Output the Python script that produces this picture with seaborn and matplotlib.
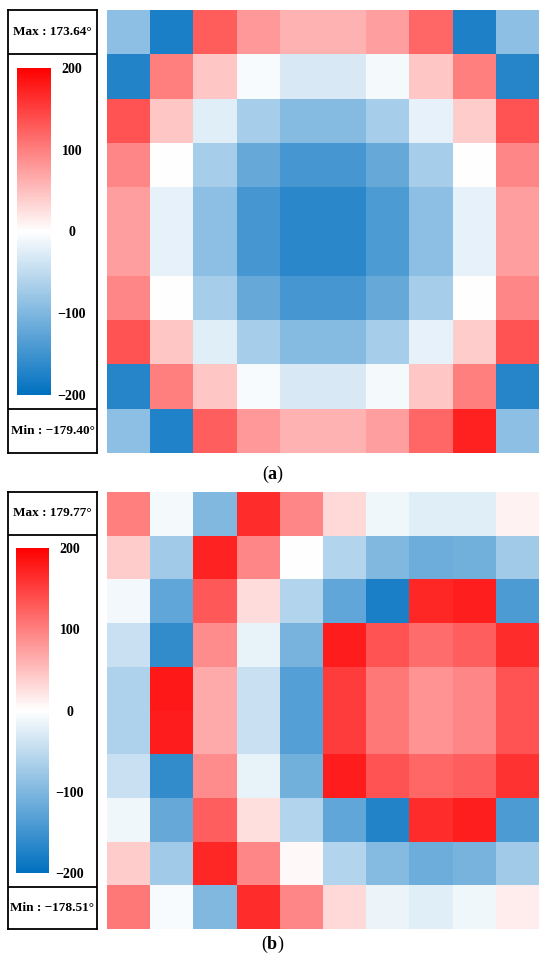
import numpy as np
import pandas as pd
import seaborn as sns
import matplotlib.pyplot as plt
from matplotlib.colors import LinearSegmentedColormap

# phase maps (degrees), 10 x 10 each
map_a = [
    [-90, -179.40, 128, 80, 60, 60, 76, 120, -176, -90],
    [-172, 100, 45, -5, -30, -30, -8, 45, 100, -170],
    [135, 45, -25, -70, -95, -95, -70, -20, 40, 135],
    [95, 0, -70, -120, -145, -145, -120, -70, 0, 95],
    [75, -20, -90, -145, -166, -166, -140, -90, -20, 75],
    [75, -20, -90, -145, -166, -166, -140, -90, -20, 75],
    [95, 0, -70, -120, -145, -145, -120, -70, 0, 95],
    [135, 45, -25, -70, -95, -95, -70, -20, 40, 135],
    [-170, 100, 45, -5, -30, -30, -8, 45, 100, -170],
    [-90, -175, 125, 80, 60, 60, 75, 120, 173.64, -90],
]
map_b = [
    [100, -8, -100, 165, 95, 30, -12, -25, -25, 10],
    [40, -75, 172, 95, 0, -60, -100, -115, -110, -75],
    [-10, -125, 130, 27, -60, -125, -178.51, 170, 175, -140],
    [-43, -160, 90, -18, -105, 178, 135, 115, 125, 165],
    [-63, 179.77, 67, -43, -133, 153, 105, 85, 95, 135],
    [-63, 178, 67, -43, -133, 153, 105, 85, 95, 135],
    [-43, -160, 90, -18, -110, 178, 135, 120, 125, 160],
    [-12, -120, 125, 25, -60, -125, -172, 165, 175, -140],
    [40, -75, 170, 95, 5, -60, -95, -115, -105, -75],
    [105, -5, -100, 165, 95, 30, -15, -25, -12, 15],
]
cbar_ticks = [200, 100, 0, -100, -200]
cbar_ticklabels = ['200', '100', '0', '\u2212100', '\u2212200']
panel_labels = ['a', 'b']

W, H = 550, 968

def rect(x, y, w, h):
    return [x / W, 1 - (y + h) / H, w / W, h / H]

plt.rcParams['font.family'] = ['Liberation Serif', 'DejaVu Serif']
plt.rcParams['mathtext.fontset'] = 'custom'
plt.rcParams['mathtext.rm'] = 'Liberation Serif'
plt.rcParams['mathtext.bf'] = 'Liberation Serif:bold'

cmap = LinearSegmentedColormap.from_list('bwr_ppt', ['#0070C0', '#FFFFFF', '#FF0000'])

fig = plt.figure(figsize=(W / 100, H / 100), dpi=100)

# pixel layout per panel: heatmap, frame box, colorbar, label position, divider fractions
panels = [
    dict(data=map_a, heat=(107, 10, 432, 443), box=(8, 10, 89, 443),
         cbar=(17, 68, 34, 327), label_y=474, div=(0.9007, 0.0993)),
    dict(data=map_b, heat=(107, 492, 432, 437), box=(7.5, 492, 89, 437),
         cbar=(16, 548, 33, 325), label_y=944, div=(0.902, 0.096)),
]

for p, name in zip(panels, panel_labels):
    df = pd.DataFrame(p['data'])

    box = fig.add_axes(rect(*p['box']))
    box.set_xticks([])
    box.set_yticks([])
    box.set_xlim(0, 1)
    box.set_ylim(0, 1)
    for s in box.spines.values():
        s.set_linewidth(1.3)
    for yy in p['div']:
        box.axhline(yy, color='black', lw=1.3)
    top_mid = (1 + p['div'][0]) / 2
    bot_mid = p['div'][1] / 2
    box.text(0.5, top_mid, f"Max : {df.values.max():.2f}\u00b0", ha='center', va='center',
             fontsize=9.5, fontweight='bold')
    box.text(0.5, bot_mid, f"Min : \u2212{abs(df.values.min()):.2f}\u00b0", ha='center',
             va='center', fontsize=9.5, fontweight='bold')

    hax = fig.add_axes(rect(*p['heat']))
    cax = fig.add_axes(rect(*p['cbar']))
    sns.heatmap(df, ax=hax, cmap=cmap, vmin=-200, vmax=200, cbar_ax=cax,
                xticklabels=False, yticklabels=False)
    cb = hax.collections[0].colorbar
    cb.outline.set_visible(False)
    cb.set_ticks(cbar_ticks)
    cb.set_ticklabels(cbar_ticklabels)
    cax.tick_params(length=0, pad=15)
    for t in cax.get_yticklabels():
        t.set_horizontalalignment('center')
        t.set_fontweight('bold')
        t.set_fontsize(10)

    fig.text(273 / W, 1 - p['label_y'] / H, '(' + r'$\mathbf{' + name + '}$' + ')',
             ha='center', va='center', fontsize=13)

fig.savefig('out.png', dpi=100)
